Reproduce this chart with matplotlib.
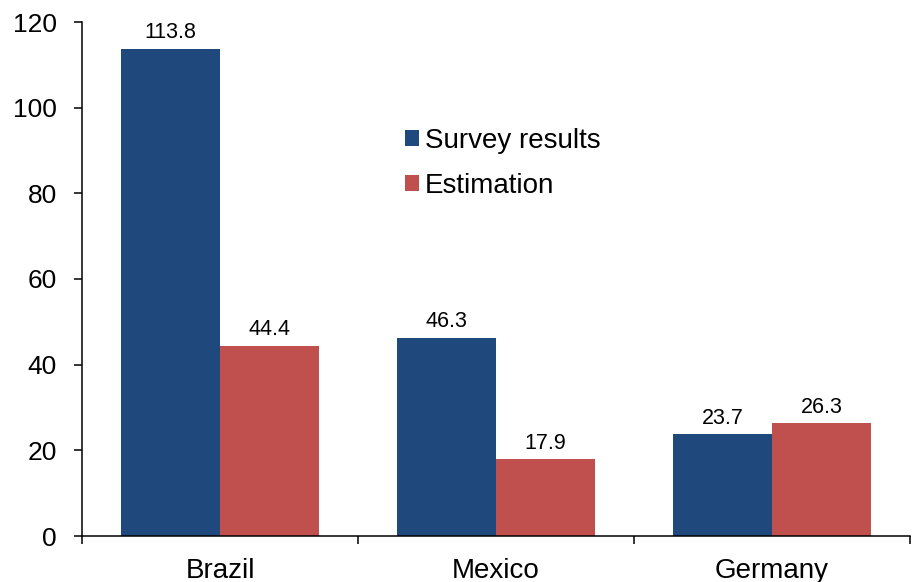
import matplotlib
matplotlib.use("Agg")
import matplotlib.pyplot as plt
import numpy as np

plt.rcParams['font.family'] = ['Liberation Sans', 'DejaVu Sans']

countries = ["Brazil", "Mexico", "Germany"]
survey_results = [113.8, 46.3, 23.7]
estimation = [44.4, 17.9, 26.3]
series_names = ["Survey results", "Estimation"]
colors = ["#1F497D", "#C0504D"]
y_ticks = [0, 20, 40, 60, 80, 100, 120]

fig = plt.figure(figsize=(9.17, 5.82), dpi=100)
ax = fig.add_axes([82 / 917, 1 - 536 / 582, (910 - 82) / 917, (536 - 22) / 582])

x = np.arange(len(countries))
width = 0.36
b1 = ax.bar(x, survey_results, width=-width, align="edge", color=colors[0],
            label=series_names[0])
b2 = ax.bar(x, estimation, width=width, align="edge", color=colors[1],
            label=series_names[1])

for bars, vals in ((b1, survey_results), (b2, estimation)):
    for rect, v in zip(bars, vals):
        ax.annotate(f"{v:.1f}", (rect.get_x() + rect.get_width() / 2, v),
                    xytext=(0, 4), textcoords="offset points",
                    ha="center", va="bottom", fontsize=15.5)

ax.set_xlim(-0.5, len(countries) - 0.5)
ax.set_ylim(0, 120)
ax.set_yticks(y_ticks)
ax.set_xticks(x)
ax.set_xticklabels(countries)
ax.set_xticks(np.arange(len(countries) + 1) - 0.5, minor=True)

for side in ("top", "right"):
    ax.spines[side].set_visible(False)
for side in ("left", "bottom"):
    ax.spines[side].set_linewidth(1.1)

ax.tick_params(axis="y", direction="out", length=6, width=1.1, pad=12, labelsize=19)
ax.tick_params(axis="x", which="major", length=0, pad=16, labelsize=20)
ax.tick_params(axis="x", which="minor", direction="out", length=6, width=1.1)

fig.legend(loc="upper left", bbox_to_anchor=(405 / 917, 1 - 128 / 582),
           frameon=False, fontsize=20, borderpad=0, borderaxespad=0,
           handlelength=0.5, handleheight=0.5, handletextpad=0.22,
           labelspacing=0.67)

fig.savefig("out.png", dpi=100)
